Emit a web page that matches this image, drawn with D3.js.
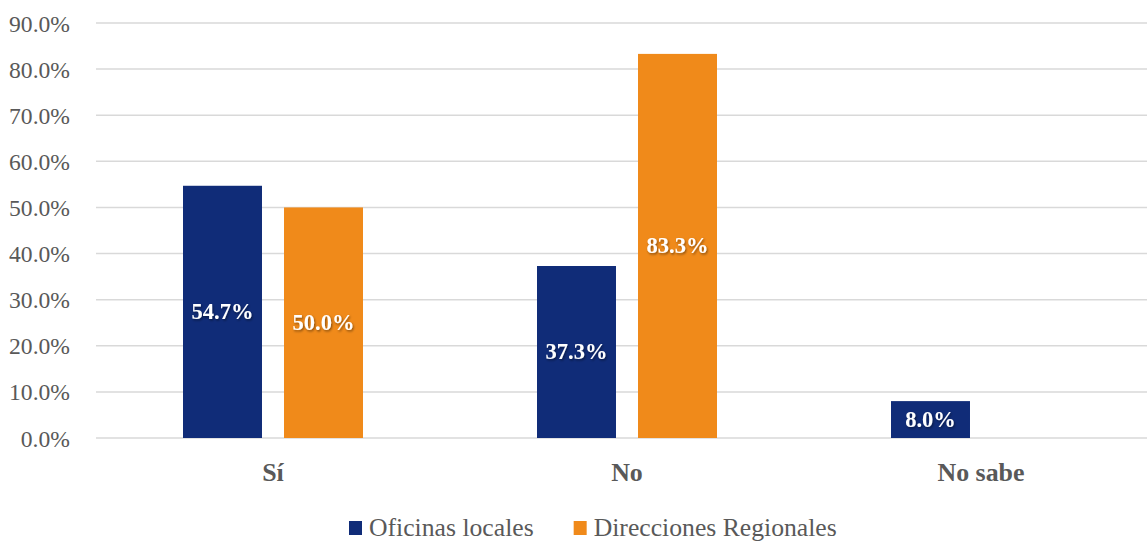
<!DOCTYPE html>
<html><head><meta charset="utf-8">
<script src="https://cdn.jsdelivr.net/npm/d3@7"></script>
<style>
body{margin:0;background:#fff;}
svg{display:block;}
text{font-family:"Liberation Serif",serif;}
</style></head>
<body>
<svg id="c" width="1147" height="541"></svg>
<script>
const categories = ["Sí", "No", "No sabe"];
const seriesNames = ["Oficinas locales", "Direcciones Regionales"];
const oficinasLocales = [54.7, 37.3, 8.0];
const direccionesRegionales = [50.0, 83.3, null];
const yTicks = [0, 10, 20, 30, 40, 50, 60, 70, 80, 90];
const colors = ["#102C78", "#F08A1A"];

(function() {
const FONT = '"Liberation Serif",serif';
const svg = d3.select("#c");
const W = 1147, H = 541;
const mLeft = 96, mRight = 1158, mTop = 23, mBottom = 438;

function fitSize(sample, target, weight) {
  const t = svg.append("text").style("font-family", FONT).style("font-size", "100px")
    .style("font-weight", weight || "normal").text(sample);
  const w = t.node().getComputedTextLength();
  t.remove();
  return 100 * target / w;
}
const tickSize = fitSize("90.0%", 61);
const legSize = fitSize("Oficinas localesDirecciones Regionales", 408);
const catSize = fitSize("No sabe", 87, "bold");
const lblSize = fitSize("54.7%", 62, "bold");

const defs = svg.append("defs");
const f = defs.append("filter").attr("id","sh").attr("x","-20%").attr("y","-20%").attr("width","140%").attr("height","140%");
f.append("feDropShadow").attr("dx",1).attr("dy",1.5).attr("stdDeviation",1).attr("flood-color","#000").attr("flood-opacity",0.45);

const y = d3.scaleLinear().domain([0, 90]).range([mBottom, mTop]);
const x0 = d3.scaleBand().domain(categories).range([mLeft, mRight]).paddingInner(0).paddingOuter(0);
const groupW = 180;
const x1 = d3.scaleBand().domain(seriesNames).range([0, groupW]).paddingInner(0.218).paddingOuter(0);
const groupOffset = (x0.bandwidth() - groupW) / 2;

svg.append("g").selectAll("line").data(yTicks).join("line")
  .attr("x1", mLeft).attr("x2", W)
  .attr("y1", d => y(d)).attr("y2", d => y(d))
  .attr("stroke", "#d9d9d9").attr("stroke-width", 1.5);

const yAxis = d3.axisLeft(y).tickValues(yTicks).tickFormat(d => d.toFixed(1) + "%").tickSize(0).tickPadding(0);
const ya = svg.append("g").attr("transform", `translate(70,0)`).call(yAxis);
ya.select(".domain").remove();
ya.selectAll("text").attr("fill", "#595959").attr("dy", "0.34em").style("font-size", tickSize + "px").style("font-family", FONT);

const data = [];
categories.forEach((c, i) => {
  [oficinasLocales, direccionesRegionales].forEach((arr, s) => {
    if (arr[i] != null) data.push({cat: c, s: seriesNames[s], si: s, v: arr[i]});
  });
});

const bars = svg.append("g");
bars.selectAll("rect").data(data).join("rect")
  .attr("x", d => x0(d.cat) + groupOffset + x1(d.s))
  .attr("width", x1.bandwidth())
  .attr("y", d => y(d.v))
  .attr("height", d => y(0) - y(d.v))
  .attr("fill", d => colors[d.si]);

bars.selectAll("text").data(data).join("text")
  .attr("x", d => x0(d.cat) + groupOffset + x1(d.s) + x1.bandwidth() / 2)
  .attr("y", d => (y(d.v) + y(0)) / 2)
  .attr("text-anchor", "middle").attr("dy", "0.33em")
  .attr("fill", "#fff").style("font-weight", "bold").style("font-size", lblSize + "px")
  .attr("filter", "url(#sh)")
  .text(d => d.v.toFixed(1) + "%");

const xAxis = d3.axisBottom(x0).tickSize(0).tickPadding(0);
const xa = svg.append("g").attr("transform", `translate(0,${mBottom})`).call(xAxis);
xa.select(".domain").remove();
xa.selectAll("text").attr("fill", "#595959").attr("dy", 0).attr("y", 43)
  .style("font-size", catSize + "px").style("font-weight", "bold").style("font-family", FONT);

const lg = svg.append("g");
const items = lg.selectAll("g").data(seriesNames).join("g");
items.append("rect").attr("width", 13).attr("height", 14).attr("y", 521).attr("fill", (d, i) => colors[i]);
items.append("text").attr("x", 20).attr("y", 536).attr("fill", "#595959").style("font-size", legSize + "px").text(d => d);
let xpos = 0;
const positions = [];
items.each(function(d, i) {
  const w = this.querySelector("text").getComputedTextLength() + 20;
  positions.push(xpos);
  xpos += w + 40;
});
items.attr("transform", (d, i) => `translate(${349 + positions[i]},0)`);
})();
</script>
</body></html>
